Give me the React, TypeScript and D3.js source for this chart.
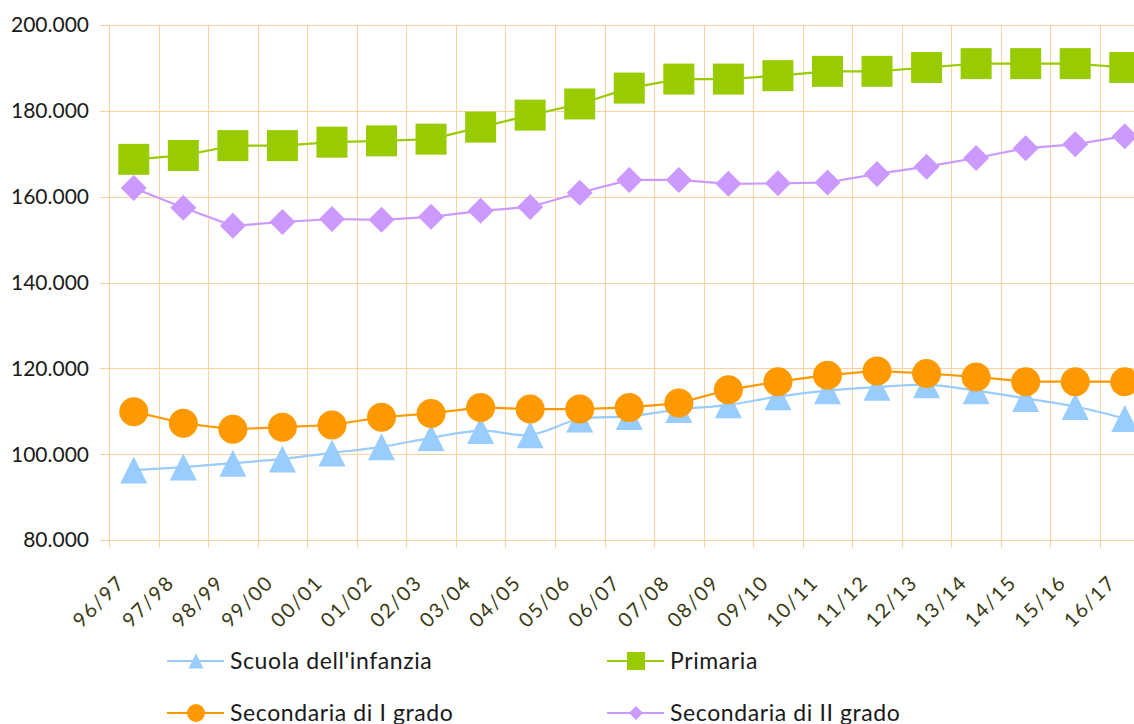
import * as d3 from 'd3';
import { useEffect, useRef } from 'react';

const categories = [
  '96/97', '97/98', '98/99', '99/00', '00/01', '01/02', '02/03', '03/04', '04/05', '05/06', '06/07',
  '07/08', '08/09', '09/10', '10/11', '11/12', '12/13', '13/14', '14/15', '15/16', '16/17',
];

const infanzia = [
  96300, 97000, 97900, 98900, 100300, 101700, 103800, 105500, 104500, 108200, 108800,
  110400, 111500, 113400, 114800, 115600, 116200, 114800, 113000, 111100, 108300,
];
const primaria = [
  168700, 169600, 171900, 171900, 172700, 173000, 173400, 176200, 179000, 181600, 185300,
  187400, 187400, 188200, 189200, 189200, 190100, 191000, 191000, 191000, 190100,
];
const secondariaI = [
  109900, 107200, 105800, 106300, 106800, 108600, 109500, 110900, 110500, 110500, 110900,
  111900, 115000, 116900, 118400, 119400, 118800, 118000, 116900, 116900, 116900,
];
const secondariaII = [
  162000, 157400, 153200, 154100, 154800, 154600, 155300, 156700, 157600, 160900, 163900,
  163900, 163000, 163100, 163300, 165300, 167000, 169000, 171300, 172200, 174100,
];

const yTicks = [80000, 100000, 120000, 140000, 160000, 180000, 200000];

type Marker = 'triangle' | 'square' | 'circle' | 'diamond';

const series: { name: string; values: number[]; color: string; marker: Marker; smooth: boolean }[] = [
  { name: "Scuola dell'infanzia", values: infanzia, color: '#99CCFF', marker: 'triangle', smooth: true },
  { name: 'Primaria', values: primaria, color: '#99CC00', marker: 'square', smooth: false },
  { name: 'Secondaria di II grado', values: secondariaII, color: '#CC99FF', marker: 'diamond', smooth: false },
  { name: 'Secondaria di I grado', values: secondariaI, color: '#FF9900', marker: 'circle', smooth: false },
];

const legendOrder = [
  "Scuola dell'infanzia", 'Primaria', 'Secondaria di I grado', 'Secondaria di II grado',
];

const FONT = 'Lato, "Open Sans", sans-serif';

// marker path centred on its bounding box
const markerPath = (m: Marker, s: number) => {
  const h = s / 2;
  if (m === 'square') return `M${-h},${-h}H${h}V${h}H${-h}Z`;
  if (m === 'diamond') return `M0,${-h}L${h},0L0,${h}L${-h},0Z`;
  if (m === 'triangle') return `M0,${-h}L${h},${h}L${-h},${h}Z`;
  return d3.arc()({ innerRadius: 0, outerRadius: h, startAngle: 0, endAngle: 2 * Math.PI }) as string;
};
const markerSize: Record<Marker, number> = { square: 31, circle: 29, triangle: 27, diamond: 26 };
const legendMarkerSize: Record<Marker, number> = { square: 18, circle: 18, triangle: 15, diamond: 14 };

export default function App() {
  const ref = useRef<SVGSVGElement | null>(null);
  const width = 1134;
  const height = 724;

  useEffect(() => {
    const left = 109;
    const top = 25;
    const bottom = 540;
    const step = (1100 - left) / 20;

    const x = d3.scaleBand<string>().domain(categories).range([left, left + step * categories.length]).paddingInner(0).paddingOuter(0);
    const y = d3.scaleLinear().domain([80000, 200000]).range([bottom, top]);
    const fmt = d3.formatLocale({ thousands: '.', grouping: [3], decimal: ',', currency: ['', ''] }).format(',.0f');

    const svg = d3.select(ref.current);
    svg.selectAll('*').remove();

    const grid = svg.append('g').attr('stroke', '#FFD0A0').attr('stroke-width', 1.3).attr('shape-rendering', 'crispEdges');
    grid
      .selectAll('line.h')
      .data(yTicks)
      .join('line')
      .attr('class', 'h')
      .attr('x1', left - 9)
      .attr('x2', width)
      .attr('y1', (d) => Math.round(y(d)) + 0.5)
      .attr('y2', (d) => Math.round(y(d)) + 0.5);
    const edges = d3.range(categories.length + 1).map((i) => left + i * step);
    grid
      .selectAll('line.v')
      .data(edges)
      .join('line')
      .attr('class', 'v')
      .attr('x1', (d) => Math.round(d) + 0.5)
      .attr('x2', (d) => Math.round(d) + 0.5)
      .attr('y1', top)
      .attr('y2', bottom + 8);

    svg
      .append('g')
      .attr('font-family', FONT)
      .attr('font-size', 21)
      .attr('fill', '#1a1a1a')
      .attr('text-anchor', 'end')
      .selectAll('text')
      .data(yTicks)
      .join('text')
      .attr('x', 89)
      .attr('y', (d) => y(d))
      .attr('dy', '0.35em')
      .text((d) => fmt(d));

    svg
      .append('g')
      .attr('font-family', FONT)
      .attr('font-size', 20)
      .attr('letter-spacing', 1.6)
      .attr('fill', '#3a3a14')
      .attr('text-anchor', 'end')
      .selectAll('text')
      .data(categories)
      .join('text')
      .attr('transform', (d) => `translate(${(x(d) as number) + 17},${bottom + 44}) rotate(-45)`)
      .text((d) => d);

    const cx = (i: number) => (x(categories[i]) as number) + step / 2;

    series.forEach((s) => {
      const g = svg.append('g');
      const line = d3
        .line<number>()
        .x((_, i) => cx(i))
        .y((d) => y(d))
        .curve(s.smooth ? d3.curveCatmullRom.alpha(0.5) : d3.curveLinear);
      g.append('path').attr('d', line(s.values)).attr('fill', 'none').attr('stroke', s.color).attr('stroke-width', 2.2);
      g.selectAll('path.m')
        .data(s.values)
        .join('path')
        .attr('class', 'm')
        .attr('transform', (d, i) => `translate(${cx(i)},${y(d)})`)
        .attr('d', markerPath(s.marker, markerSize[s.marker]))
        .attr('fill', s.color);
    });

    const legend = svg
      .append('g')
      .attr('font-family', FONT)
      .attr('font-size', 23)
      .attr('letter-spacing', 0.6)
      .attr('fill', '#1a1a1a');
    legendOrder.forEach((name, i) => {
      const s = series.find((d) => d.name === name)!;
      const lx = 167 + (i % 2) * 440;
      const ly = 661 + Math.floor(i / 2) * 52;
      const item = legend.append('g').attr('transform', `translate(${lx},${ly})`);
      item.append('line').attr('x1', 0).attr('x2', 57).attr('y1', 0).attr('y2', 0).attr('stroke', s.color).attr('stroke-width', 2);
      item
        .append('path')
        .attr('transform', 'translate(29,0)')
        .attr('d', markerPath(s.marker, legendMarkerSize[s.marker]))
        .attr('fill', s.color);
      item.append('text').attr('x', 63).attr('y', 0).attr('dy', '0.35em').text(name);
    });
  }, []);

  return (
    <svg
      ref={ref}
      width={width}
      height={height}
      style={{ position: 'absolute', left: 0, top: 0, background: '#fff', display: 'block' }}
    />
  );
}
